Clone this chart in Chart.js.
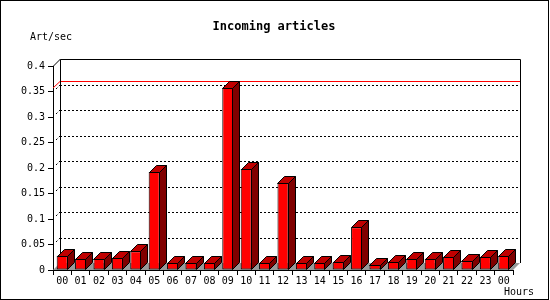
<!DOCTYPE html>
<html>
<head>
<meta charset="utf-8">
<script src="https://cdn.jsdelivr.net/npm/chart.js@4"></script>
<style>
  body { margin: 0; background: #fff; }
  canvas { display: block; }
</style>
</head>
<body>
<canvas id="articlesChart" width="550" height="300"></canvas>
<script>
// hours along the x axis (last one wraps to next day)
const hours = ['00', '01', '02', '03', '04', '05', '06', '07', '08', '09', '10', '11',
               '12', '13', '14', '15', '16', '17', '18', '19', '20', '21', '22', '23', '00'];
// articles per second
const artPerSec = [0.028, 0.022, 0.022, 0.024, 0.037, 0.192, 0.014, 0.014, 0.014, 0.357, 0.198, 0.014,
                   0.171, 0.014, 0.014, 0.016, 0.084, 0.010, 0.016, 0.022, 0.022, 0.026, 0.018, 0.026, 0.028];
const yTicks = [0, 0.05, 0.1, 0.15, 0.2, 0.25, 0.3, 0.35, 0.4];

const DEPTH = 7;

Chart.defaults.font.family = 'DejaVu Sans Mono';
Chart.defaults.font.size = 10;
Chart.defaults.color = '#000';

const px = v => Math.round(v) + 0.5;

// back wall, floor, dotted grid and the max line
const wallPlugin = {
    id: 'wall',
    beforeDraw(chart) {
        const ctx = chart.ctx;
        ctx.save();
        ctx.fillStyle = '#fff';
        ctx.fillRect(0, 0, chart.width, chart.height);
        ctx.strokeStyle = '#000';
        ctx.lineWidth = 1;
        ctx.strokeRect(0.5, 0.5, chart.width - 2, chart.height - 1);

        ctx.fillStyle = '#000';
        ctx.textBaseline = 'middle';
        ctx.font = 'bold 12px "DejaVu Sans Mono"';
        ctx.textAlign = 'center';
        ctx.fillText('Incoming articles', 274, 27);
        ctx.font = '10px "DejaVu Sans Mono"';
        ctx.textAlign = 'left';
        ctx.fillText('Art/sec', 30, 37);
        ctx.fillText('Hours', 504, 292);
        ctx.restore();
    },
    beforeDatasetsDraw(chart) {
        const ctx = chart.ctx;
        const a = chart.chartArea;
        const y = chart.scales.y;
        const l = Math.round(a.left), r = Math.round(a.right);
        const t = Math.round(a.top), b = Math.round(a.bottom);
        ctx.save();

        // grey floor
        ctx.fillStyle = '#999';
        ctx.beginPath();
        ctx.moveTo(l, b);
        ctx.lineTo(r, b);
        ctx.lineTo(r + DEPTH, b - DEPTH);
        ctx.lineTo(l + DEPTH, b - DEPTH);
        ctx.closePath();
        ctx.fill();

        // dotted grid on back wall
        ctx.strokeStyle = '#000';
        ctx.lineWidth = 1;
        ctx.setLineDash([2, 2]);
        yTicks.slice(1, -1).forEach(v => {
            const yy = Math.round(y.getPixelForValue(v));
            ctx.beginPath();
            ctx.moveTo(l + DEPTH, yy - DEPTH + 0.5);
            ctx.lineTo(r + DEPTH, yy - DEPTH + 0.5);
            ctx.stroke();
            ctx.beginPath();
            ctx.moveTo(l + 3, yy - 3);
            ctx.lineTo(l + DEPTH, yy - DEPTH);
            ctx.stroke();
        });
        ctx.setLineDash([]);

        // max line
        const maxY = Math.round(y.getPixelForValue(Math.max(...artPerSec)));
        ctx.strokeStyle = '#ff0000';
        ctx.beginPath();
        ctx.moveTo(l, maxY);
        ctx.lineTo(l + DEPTH, maxY - DEPTH + 0.5);
        ctx.lineTo(r + DEPTH, maxY - DEPTH + 0.5);
        ctx.stroke();

        // wall outline
        ctx.strokeStyle = '#000';
        ctx.beginPath();
        ctx.moveTo(px(l + DEPTH), b - DEPTH);
        ctx.lineTo(px(l + DEPTH), px(t - DEPTH));
        ctx.lineTo(px(r + DEPTH), px(t - DEPTH));
        ctx.lineTo(px(r + DEPTH), b - DEPTH);
        ctx.moveTo(l + 0.5, t);
        ctx.lineTo(l + DEPTH + 0.5, t - DEPTH);
        ctx.stroke();
        ctx.restore();
    },
    afterDatasetsDraw(chart) {
        const ctx = chart.ctx;
        const meta = chart.getDatasetMeta(0);
        ctx.save();
        ctx.strokeStyle = '#000';
        ctx.lineWidth = 1;
        meta.data.forEach(bar => {
            const p = bar.getProps(['x', 'y', 'base', 'width'], true);
            const x0 = Math.round(p.x - p.width / 2) + 0.5;
            const x1 = Math.round(p.x + p.width / 2) - 0.5;
            const yt = Math.round(p.y) + 0.5;
            const yb = Math.round(p.base) - 0.5;
            // top face
            ctx.fillStyle = '#c00000';
            ctx.beginPath();
            ctx.moveTo(x0, yt);
            ctx.lineTo(x0 + DEPTH, yt - DEPTH);
            ctx.lineTo(x1 + DEPTH, yt - DEPTH);
            ctx.lineTo(x1, yt);
            ctx.closePath();
            ctx.fill();
            ctx.stroke();
            // side face
            ctx.fillStyle = '#800000';
            ctx.beginPath();
            ctx.moveTo(x1, yt);
            ctx.lineTo(x1 + DEPTH, yt - DEPTH);
            ctx.lineTo(x1 + DEPTH, yb - DEPTH);
            ctx.lineTo(x1, yb);
            ctx.closePath();
            ctx.fill();
            ctx.stroke();
        });
        ctx.restore();
    }
};

new Chart(document.getElementById('articlesChart'), {
    type: 'bar',
    data: {
        labels: hours,
        datasets: [{
            data: artPerSec,
            backgroundColor: '#ff0000',
            borderColor: '#000',
            borderWidth: 1,
            borderSkipped: false,
            categoryPercentage: 1,
            barPercentage: 0.6
        }]
    },
    options: {
        responsive: false,
        animation: false,
        layout: { padding: { top: 66, right: 37, left: 0, bottom: 0 } },
        plugins: {
            legend: { display: false },
            title: { display: false },
            tooltip: { enabled: false }
        },
        scales: {
            x: {
                offset: true,
                grid: { offset: true, drawOnChartArea: false, drawTicks: true, tickLength: 5, color: '#000' },
                border: { display: true, color: '#000' },
                ticks: { padding: 0, maxRotation: 0, autoSkip: false, color: '#000' },
                afterFit: s => { s.height = 30; }
            },
            y: {
                min: 0,
                max: 0.4,
                grid: { drawOnChartArea: false, drawTicks: true, tickLength: 5, color: '#000' },
                border: { display: true, color: '#000' },
                afterBuildTicks: s => { s.ticks = yTicks.map(v => ({ value: v })); },
                ticks: { padding: 3, color: '#000', callback: v => String(Math.round(v * 100) / 100) },
                afterFit: s => { s.width = 53; }
            }
        }
    },
    plugins: [wallPlugin]
});
</script>
</body>
</html>
